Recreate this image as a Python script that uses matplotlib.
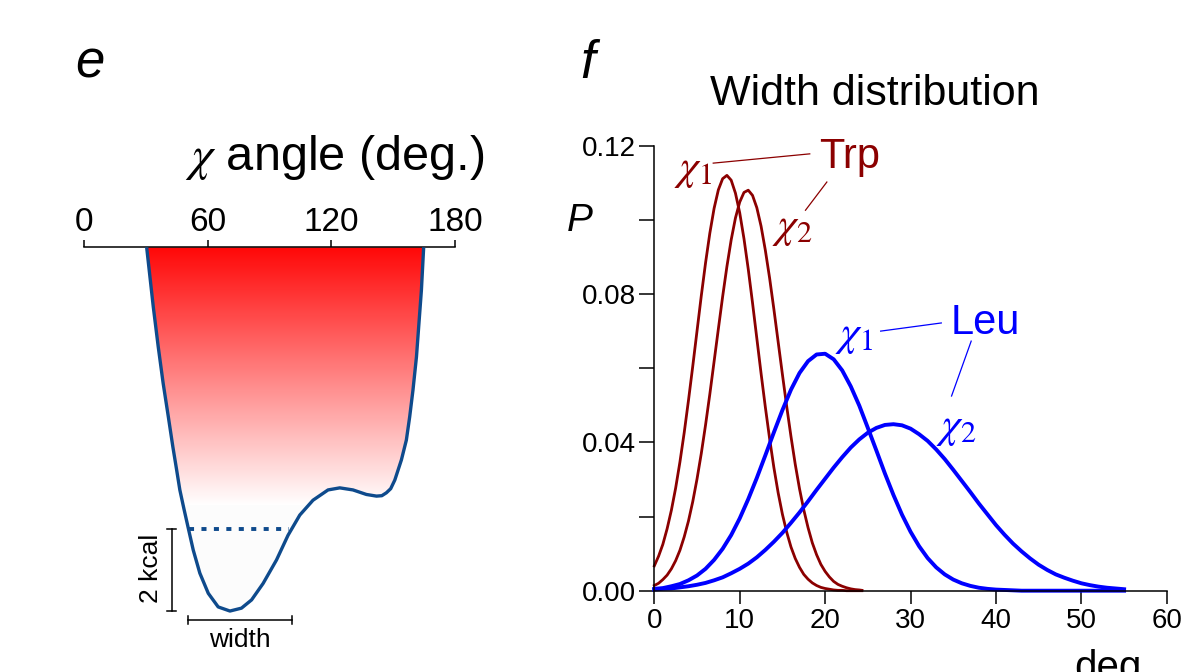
import numpy as np
import matplotlib
matplotlib.use('Agg')
import matplotlib.pyplot as plt
from matplotlib.patches import Polygon

plt.rcParams['font.family'] = ['Liberation Sans', 'DejaVu Sans']
plt.rcParams['mathtext.fontset'] = 'stix'

# ---- panel e: chi angle energy well (deg, kcal above the minimum)
well_deg = [30.4, 32.0, 33.6, 36.0, 38.4, 40.9, 43.1, 44.8, 46.5, 48.4, 50.6, 53.0,
            56.2, 60.3, 65.1, 70.8, 76.4, 81.3, 86.9, 93.4, 99.0, 104.7, 111.1,
            118.4, 124.1, 130.5, 137.0, 141.9, 144.5, 146.7, 148.8, 150.8, 154.0,
            156.4, 158.0, 159.6, 161.3, 162.5, 163.7, 164.8]
well_kcal = [8.83, 8.11, 7.39, 6.42, 5.53, 4.72, 3.99, 3.47, 2.94, 2.50, 2.01, 1.48,
             0.92, 0.43, 0.10, 0.00, 0.07, 0.27, 0.67, 1.24, 1.84, 2.33, 2.69,
             2.94, 2.99, 2.94, 2.83, 2.79, 2.80, 2.87, 2.97, 3.18, 3.67,
             4.15, 4.71, 5.36, 6.17, 6.98, 7.79, 8.83]
top_ticks = [0, 60, 120, 180]

# ---- panel f: width distributions
trp_deg = [0, 0.5, 1, 1.5, 2, 2.5, 3, 3.5, 4, 4.5, 5, 5.5, 6, 6.5, 7, 7.5, 8, 8.5,
           9, 9.5, 10, 10.5, 11, 11.5, 12, 12.5, 13, 13.5, 14, 14.5, 15, 15.5, 16,
           16.5, 17, 17.5, 18, 18.5, 19, 19.5, 20, 20.5, 21, 21.5, 22, 22.5, 23,
           23.5, 24, 24.3]
trp_chi1 = [0.0067, 0.0093, 0.0125, 0.0167, 0.0217, 0.0277, 0.0347, 0.0426, 0.0513,
            0.0605, 0.0700, 0.0795, 0.0884, 0.0964, 0.1031, 0.1081, 0.1111, 0.1120,
            0.1107, 0.1072, 0.1019, 0.0949, 0.0867, 0.0776, 0.0681, 0.0586, 0.0495,
            0.0410, 0.0332, 0.0264, 0.0206, 0.0158, 0.0118, 0.0087, 0.0063, 0.0044,
            0.0031, 0.0021, 0.0014, 0.0009, 0.0006, 0.0004, 0.0002, 0.0001, 0.0001,
            0.0, 0.0, 0.0, 0.0, 0.0]
trp_chi2 = [0.0014, 0.0020, 0.0030, 0.0042, 0.0059, 0.0081, 0.0109, 0.0145, 0.0188,
            0.0240, 0.0301, 0.0370, 0.0447, 0.0530, 0.0618, 0.0706, 0.0793, 0.0874,
            0.0946, 0.1005, 0.1048, 0.1074, 0.1080, 0.1066, 0.1033, 0.0983, 0.0918,
            0.0843, 0.0759, 0.0671, 0.0583, 0.0497, 0.0416, 0.0341, 0.0275, 0.0218,
            0.0170, 0.0129, 0.0097, 0.0071, 0.0052, 0.0037, 0.0025, 0.0017, 0.0012,
            0.0008, 0.0005, 0.0003, 0.0002, 0.0001]
leu_deg = list(range(0, 56))
leu_chi1 = [0.0005, 0.0007, 0.0012, 0.0018, 0.0028, 0.0041, 0.0059, 0.0083, 0.0113,
            0.0150, 0.0195, 0.0247, 0.0304, 0.0365, 0.0427, 0.0487, 0.0542, 0.0587,
            0.0619, 0.0637, 0.0639, 0.0624, 0.0594, 0.0551, 0.0499, 0.0439, 0.0378,
            0.0316, 0.0258, 0.0205, 0.0159, 0.0120, 0.0088, 0.0063, 0.0044, 0.0030,
            0.0020, 0.0013, 0.0008, 0.0005, 0.0003, 0.0002, 0.0001] + [0.0] * 13
leu_chi2 = [0.0003, 0.0005, 0.0006, 0.0009, 0.0012, 0.0016, 0.0021, 0.0028, 0.0036,
            0.0047, 0.0059, 0.0073, 0.0090, 0.0110, 0.0132, 0.0156, 0.0183, 0.0211,
            0.0241, 0.0272, 0.0302, 0.0332, 0.0360, 0.0386, 0.0408, 0.0426, 0.0439,
            0.0447, 0.0449, 0.0446, 0.0437, 0.0422, 0.0404, 0.0381, 0.0355, 0.0326,
            0.0296, 0.0266, 0.0235, 0.0206, 0.0177, 0.0151, 0.0127, 0.0106, 0.0087,
            0.0070, 0.0056, 0.0044, 0.0035, 0.0027, 0.0020, 0.0015, 0.0011, 0.0008,
            0.0006, 0.0004]

W, H = 1184, 672
fig = plt.figure(figsize=(W / 100, H / 100), dpi=100)

well_col = '#0e4a8c'
e_top, e_bot = 8.83, -1.48

ax = fig.add_axes([84 / W, 0, 371 / W, 1 - 247.3 / H])
ax.set_xlim(0, 180)
ax.set_ylim(e_bot, e_top)
for s in ['left', 'right', 'bottom']:
    ax.spines[s].set_visible(False)
ax.spines['top'].set_linewidth(1.1)
ax.xaxis.tick_top()
ax.set_xticks(top_ticks)
ax.tick_params(axis='x', direction='out', length=5, width=1.1, labelsize=24, pad=2)
ax.set_yticks([])
ax.patch.set_alpha(0)

# red -> white gradient, clipped to the well
ys = np.linspace(e_top, e_bot, 400)
t = np.clip((e_top - ys) / (e_top - 2.57), 0, 1)
grad = np.zeros((400, 2, 3))
grad[:, :, 0] = 1.0
grad[:, :, 1] = (0.03 + 0.97 * t)[:, None]
grad[:, :, 2] = (0.03 + 0.97 * t)[:, None]
grad[ys < 2.57] = 0.99
im = ax.imshow(grad, extent=[0, 180, e_bot, e_top], aspect='auto', zorder=1,
               interpolation='bilinear')
poly = Polygon(list(zip(well_deg, well_kcal)), closed=True, transform=ax.transData)
im.set_clip_path(poly)

ax.plot(well_deg, well_kcal, color=well_col, lw=2.4, zorder=3,
        solid_joinstyle='round', solid_capstyle='butt')
ax.plot([50.8, 99.3], [2.0, 2.0], color=well_col, lw=2.8, ls=(0, (1.3, 1.9)), zorder=3)

# scale bars
ax.plot([42.5, 42.5], [0, 2], color='k', lw=1.1, clip_on=False)
ax.plot([40.1, 44.4], [0, 0], color='k', lw=1.1, clip_on=False)
ax.plot([40.1, 44.4], [2, 2], color='k', lw=1.1, clip_on=False)
ax.text(32.5, 1.04, '2 kcal', rotation=90, ha='center', va='center', fontsize=19)
ax.plot([50.3, 100.7], [-0.218, -0.218], color='k', lw=1.1, clip_on=False)
ax.plot([50.3, 50.3], [-0.114, -0.323], color='k', lw=1.1, clip_on=False)
ax.plot([100.7, 100.7], [-0.114, -0.323], color='k', lw=1.1, clip_on=False)
ax.text(75.6, -0.41, 'width', ha='center', va='top', fontsize=19)

fig.text(335 / W, 1 - 170 / H, r'$\chi$ angle (deg.)', ha='center', va='baseline', fontsize=35)
fig.text(75 / W, 1 - 77 / H, 'e', style='italic', ha='left', va='baseline', fontsize=38)

# ---- panel f
trp_col = '#8b0000'
leu_col = '#0000ff'

axf = fig.add_axes([654.3 / W, 1 - 590.7 / H, (1166.8 - 654.3) / W, (590.7 - 145.7) / H])
axf.set_xlim(0, 60)
axf.set_ylim(0, 0.12)
axf.spines['top'].set_visible(False)
axf.spines['right'].set_visible(False)
axf.spines['left'].set_linewidth(1.1)
axf.spines['bottom'].set_linewidth(1.1)
axf.set_xticks(range(0, 61, 10))
axf.set_yticks([0, 0.04, 0.08, 0.12])
axf.set_yticks([0.02, 0.06, 0.10], minor=True)
axf.set_yticklabels(['0.00', '0.04', '0.08', '0.12'])
axf.tick_params(axis='x', length=9.5, width=1.1, labelsize=20, pad=3)
axf.tick_params(axis='y', which='both', length=11, width=1.1, labelsize=20, pad=2)

axf.plot(trp_deg, trp_chi1, color=trp_col, lw=2.0, clip_on=False)
axf.plot(trp_deg, trp_chi2, color=trp_col, lw=2.0, clip_on=False)
axf.plot(leu_deg, leu_chi1, color=leu_col, lw=2.8, clip_on=False)
axf.plot(leu_deg, leu_chi2, color=leu_col, lw=2.8, clip_on=False)

axf.text(22.9, 0.1140, 'Trp', color=trp_col, ha='center', va='baseline', fontsize=30)
axf.text(4.5, 0.1134, r'$\chi_1$', color=trp_col, ha='center', va='center', fontsize=31)
axf.text(16.2, 0.0978, r'$\chi_2$', color=trp_col, ha='center', va='center', fontsize=31)
axf.plot([6.9, 18.2], [0.1153, 0.1178], color=trp_col, lw=0.9, clip_on=False)
axf.plot([20.2, 17.7], [0.1102, 0.1026], color=trp_col, lw=0.9, clip_on=False)

axf.text(38.8, 0.0692, 'Leu', color=leu_col, ha='center', va='baseline', fontsize=30)
axf.text(23.4, 0.0687, r'$\chi_1$', color=leu_col, ha='center', va='center', fontsize=31)
axf.text(35.3, 0.0439, r'$\chi_2$', color=leu_col, ha='center', va='center', fontsize=31)
axf.plot([26.5, 33.6], [0.0700, 0.0722], color=leu_col, lw=0.9, clip_on=False)
axf.plot([37.1, 34.8], [0.0673, 0.0525], color=leu_col, lw=0.9, clip_on=False)

fig.text(580 / W, 1 - 221 / H, 'P', style='italic', ha='center', va='center', fontsize=28)
fig.text(1108 / W, 1 - 679 / H, 'deg', ha='center', va='baseline', fontsize=29)
fig.text(874.5 / W, 1 - 105 / H, 'Width distribution', ha='center', va='baseline', fontsize=31)
fig.text(580 / W, 1 - 78 / H, 'f', style='italic', ha='left', va='baseline', fontsize=38)

fig.savefig('out.png', dpi=100)
